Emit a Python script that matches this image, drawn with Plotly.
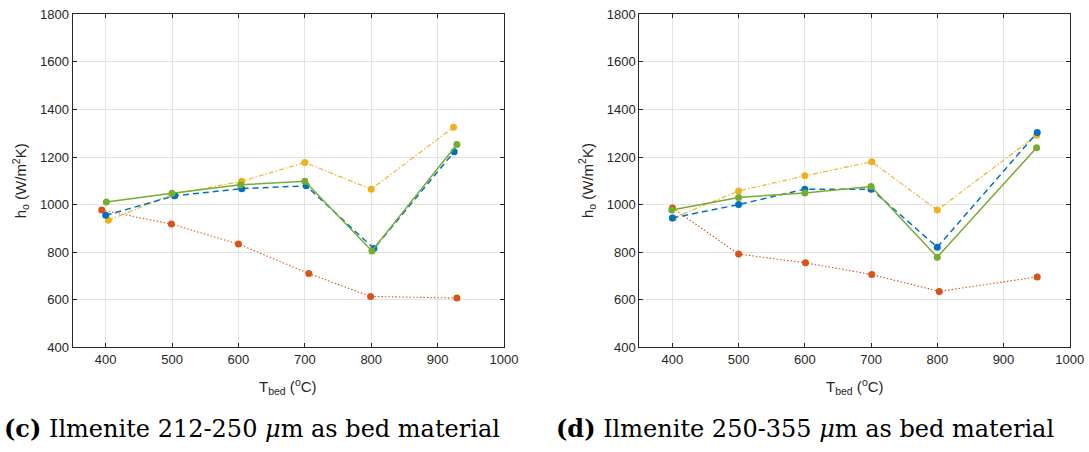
import plotly.graph_objects as go

# ---- data: panel (c) Ilmenite 212-250 um ----
c_blue_x = [400, 504, 605, 702, 804, 925]
c_blue_y = [955, 1037, 1067, 1079, 815, 1222]
c_red_x = [394, 499, 600, 706, 799, 929]
c_red_y = [977, 918, 834, 710, 614, 607]
c_yel_x = [404, 500, 605, 700, 800, 924]
c_yel_y = [934, 1043, 1098, 1177, 1065, 1325]
c_grn_x = [401, 500, 603, 700, 801, 929]
c_grn_y = [1011, 1048, 1083, 1098, 805, 1253]

# ---- data: panel (d) Ilmenite 250-355 um ----
d_blue_x = [400, 500, 600, 700, 800, 951]
d_blue_y = [944, 1000, 1065, 1065, 821, 1303]
d_red_x = [400, 500, 601, 701, 803, 951]
d_red_y = [986, 792, 755, 706, 635, 696]
d_yel_x = [401, 500, 600, 701, 800, 950]
d_yel_y = [944, 1057, 1121, 1180, 977, 1291]
d_grn_x = [399, 500, 600, 700, 800, 950]
d_grn_y = [977, 1030, 1049, 1076, 779, 1239]

x_ticks = [400, 500, 600, 700, 800, 900, 1000]
y_ticks = [400, 600, 800, 1000, 1200, 1400, 1600, 1800]
captions = ["<b>(c)</b> Ilmenite 212-250 <i>μ</i>m as bed material",
            "<b>(d)</b> Ilmenite 250-355 <i>μ</i>m as bed material"]

BLUE, RED, YEL, GRN = "#0072BD", "#D95319", "#EDB120", "#77AC30"
W, H = 1089, 452

fig = go.Figure()

def add_series(x, y, color, dash, width, xa, ya):
    fig.add_trace(go.Scatter(
        x=x, y=y, mode="lines+markers", xaxis=xa, yaxis=ya,
        line=dict(color=color, dash=dash, width=width),
        marker=dict(color=color, size=7, symbol="circle"),
        showlegend=False, hoverinfo="skip"))

RED_DASH = "1.5px,2px"
YEL_DASH = "5px,2px,1.5px,2px"
BLUE_DASH = "6px,4px"

for (xa, ya, series) in [
    ("x", "y", [(c_red_x, c_red_y, RED, RED_DASH, 1.1),
                (c_yel_x, c_yel_y, YEL, YEL_DASH, 1.1),
                (c_blue_x, c_blue_y, BLUE, BLUE_DASH, 1.5),
                (c_grn_x, c_grn_y, GRN, "solid", 1.5)]),
    ("x2", "y2", [(d_red_x, d_red_y, RED, RED_DASH, 1.1),
                  (d_yel_x, d_yel_y, YEL, YEL_DASH, 1.1),
                  (d_blue_x, d_blue_y, BLUE, BLUE_DASH, 1.5),
                  (d_grn_x, d_grn_y, GRN, "solid", 1.5)])]:
    for (x, y, col, dash, w) in series:
        add_series(x, y, col, dash, w, xa, ya)

L1, R1 = 72.5, 504.0
L2, R2 = 639.3, 1069.7
TOP, BOT = 14.3, 347.3

axis_common = dict(
    showline=True, linecolor="#262626", linewidth=1, mirror="ticks",
    ticks="inside", ticklen=4, tickcolor="#262626", tickwidth=1,
    showgrid=True, gridcolor="#e3e3e3", gridwidth=1,
    zeroline=False, automargin=False,
    tickfont=dict(family="Liberation Sans", size=13, color="#262626"),
)

ydom = [1 - BOT / H, 1 - TOP / H]
fig.update_layout(
    width=W, height=H,
    margin=dict(l=0, r=0, t=0, b=0),
    paper_bgcolor="white", plot_bgcolor="white",
    xaxis=dict(domain=[L1 / W, R1 / W], range=[350, 1000], tickvals=x_ticks, anchor="y", **axis_common),
    yaxis=dict(domain=ydom, range=[400, 1800], tickvals=y_ticks, anchor="x", **axis_common),
    xaxis2=dict(domain=[L2 / W, R2 / W], range=[350, 1000], tickvals=x_ticks, anchor="y2", **axis_common),
    yaxis2=dict(domain=ydom, range=[400, 1800], tickvals=y_ticks, anchor="x2", **axis_common),
)

title_font = dict(family="Liberation Sans", size=15, color="#262626")
annotations = []
for (L, R) in [(L1, R1), (L2, R2)]:
    annotations.append(dict(
        text="T<sub>bed</sub> (<sup>o</sup>C)", x=(L + R) / 2 / W, y=1 - 386 / H,
        xref="paper", yref="paper", showarrow=False, font=title_font,
        xanchor="center", yanchor="middle"))
    annotations.append(dict(
        text="h<sub>o</sub> (W/m<sup>2</sup>K)", x=(L - 52) / W, y=1 - ((TOP + BOT) / 2) / H,
        xref="paper", yref="paper", showarrow=False, font=title_font, textangle=-90,
        xanchor="center", yanchor="middle"))

cap_font = dict(family="DejaVu Serif", size=24, color="black")
for cap, x0 in zip(captions, [2, 554]):
    annotations.append(dict(
        text=cap, x=x0 / W, y=1 - 428 / H, xref="paper", yref="paper",
        showarrow=False, font=cap_font, xanchor="left", yanchor="middle"))

fig.update_layout(annotations=annotations)
fig.write_html("out.html")
